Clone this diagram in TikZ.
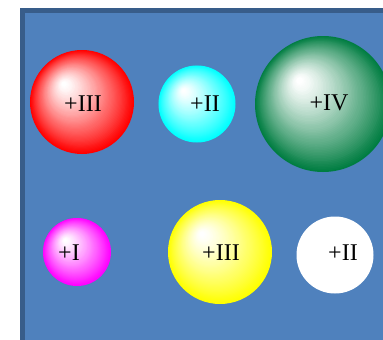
\documentclass[tikz,border=0pt]{standalone}
\usepackage{fontspec}
\setmainfont{Liberation Serif}
\usetikzlibrary{calc}
\definecolor{bgblue}{RGB}{79,129,189}
\definecolor{edgeblue}{RGB}{56,93,138}
\definecolor{ballred}{RGB}{255,0,0}
\definecolor{ballcyan}{RGB}{0,255,255}
\definecolor{ballgreen}{RGB}{0,125,65}
\definecolor{ballmag}{RGB}{255,0,255}
\definecolor{ballyel}{RGB}{255,255,0}
\colorlet{ballc}{ballred}
\newcommand\focalball[3]{% node name, colour, radius (pt)
  \colorlet{ballc}{#2}%
  \coordinate (#1f) at ($(#1.center)+(-0.36*#3,-0.36*#3)$);
  \foreach \i in {60,59,...,1}{%
    \pgfmathsetmacro\fbt{\i/60}%
    \pgfmathsetmacro\fbu{max(0.001,(\fbt-0.05)/0.95)}%
    \pgfmathtruncatemacro\fbp{min(100,max(0,round(100*\fbu^1.2)))}%
    \fill[ballc!\fbp!white] ($(#1f)!\fbt!(#1.center)$) circle[radius=\fbt*#3 pt];
  }}
\tikzset{
  ballnode/.style={circle, inner sep=0pt, minimum size=#1},
  lbl/.style={font=\fontsize{24}{24}\selectfont, inner sep=0pt, text=black}
}
\begin{document}
\begin{tikzpicture}[x=1pt,y=-1pt]
\useasboundingbox (0,0) rectangle (383,340);
\fill[white] (0,0) rectangle (383,340);
\draw[fill=bgblue, draw=edgeblue, line width=5pt] (22.5,10.5) rectangle (400,360);
% top row
\node[ballnode=104pt] (b1) at (82,102) {};
\node[ballnode=77pt] (b2) at (197,104) {};
\node[ballnode=136pt] (b3) at (323,104) {};
% bottom row
\node[ballnode=68pt] (b4) at (77,252) {};
\node[ballnode=104pt] (b5) at (220,252) {};
\node[ballnode=77pt, fill=white] (b6) at (335,255) {};
\focalball{b1}{ballred}{52}
\focalball{b2}{ballcyan}{38.5}
\focalball{b3}{ballgreen}{68}
\focalball{b4}{ballmag}{34}
\focalball{b5}{ballyel}{52}
% labels
\node[lbl] (t1) at (83,104) {+III};
\node[lbl] (t2) at (205,104) {+II};
\node[lbl] (t3) at (329,103) {+IV};
\node[lbl] (t4) at (69,253) {+I};
\node[lbl] (t5) at (221,253) {+III};
\node[lbl] (t6) at (343,253) {+II};
\end{tikzpicture}
\end{document}
